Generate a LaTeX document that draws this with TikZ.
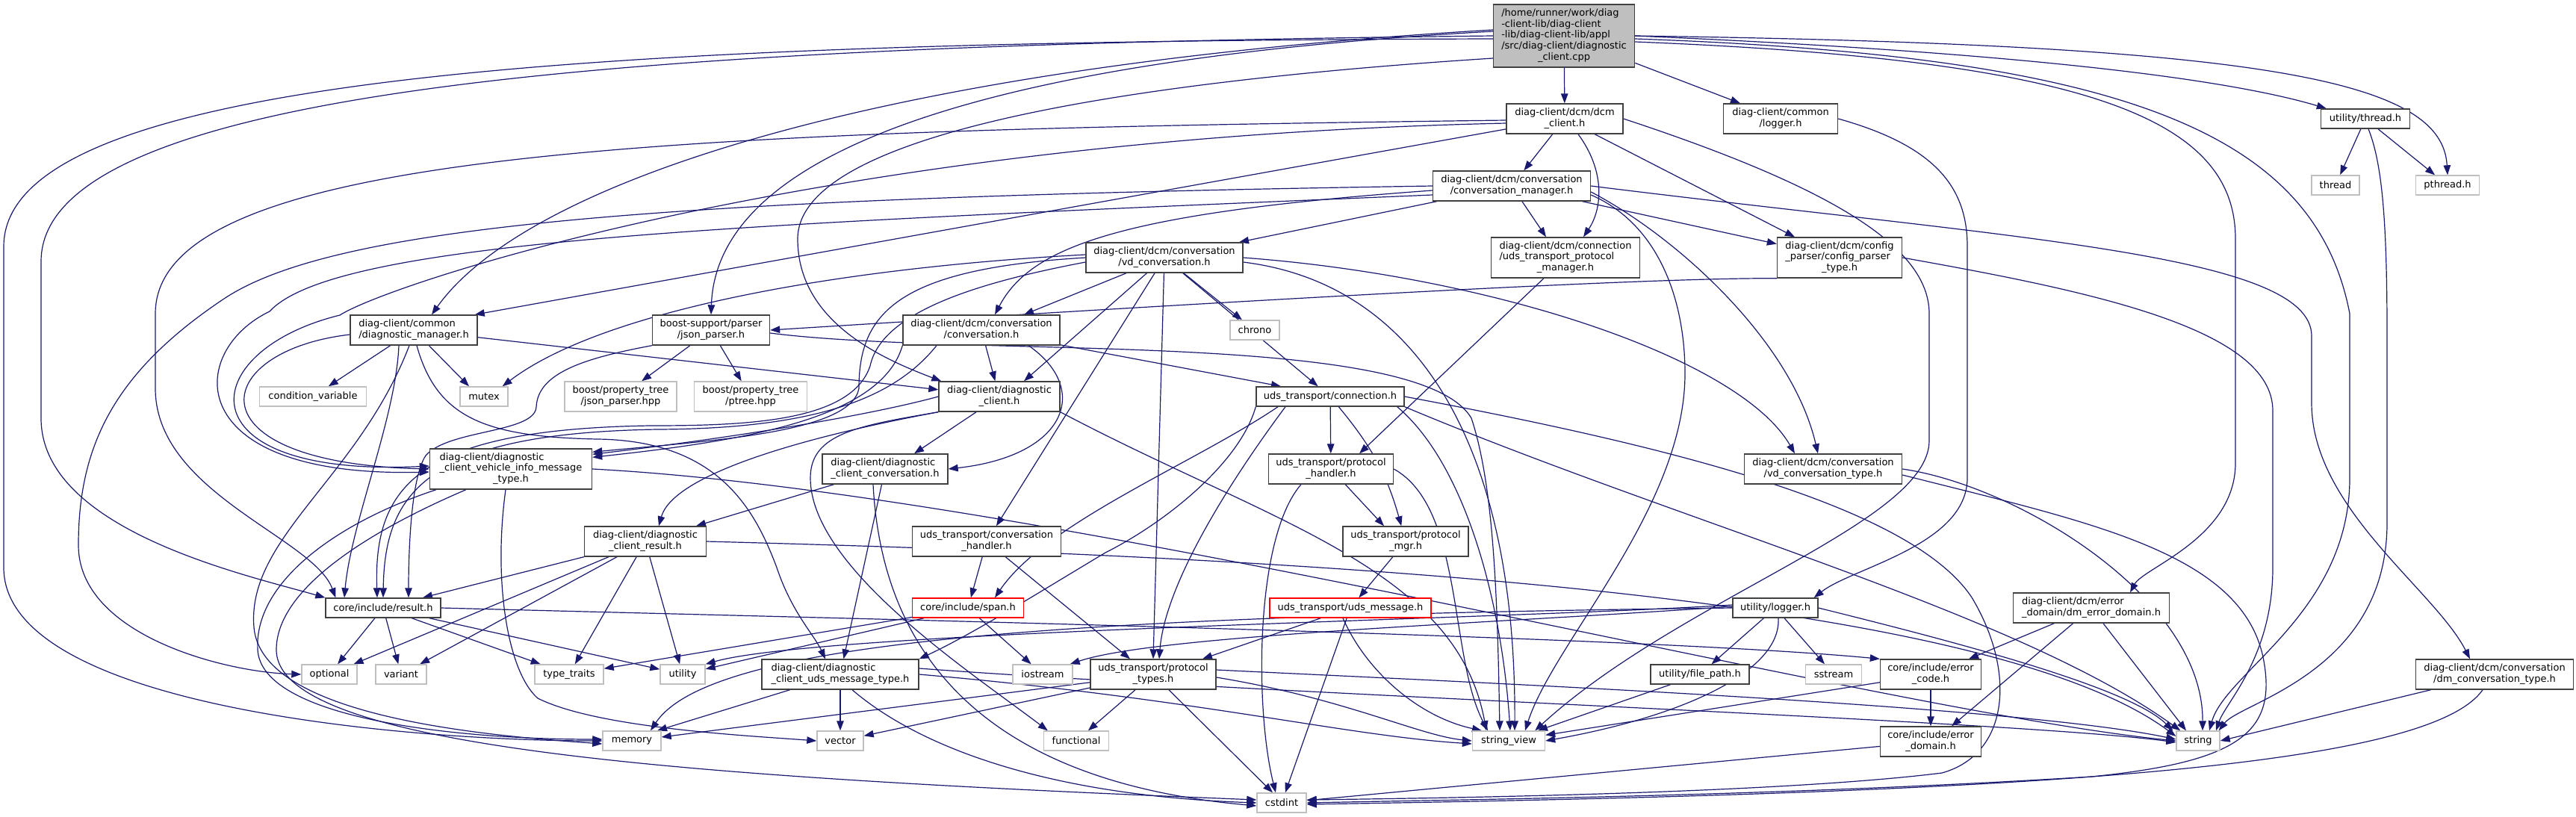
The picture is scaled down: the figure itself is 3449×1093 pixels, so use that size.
\documentclass[tikz,border=0pt]{standalone}
\usepackage{fontspec}
\newfontfamily\dfont{DejaVu Sans}
\usetikzlibrary{arrows.meta}
\definecolor{edgec}{HTML}{191970}
\definecolor{sysgray}{HTML}{BFBFBF}
\definecolor{boxgray}{HTML}{404040}
\pgfdeclarelayer{back}
\pgfdeclarelayer{bg}
\pgfsetlayers{back,bg,main}
\newcommand{\mlt}[2]{\begin{tabular}{@{}l@{}}#1\\\multicolumn{1}{@{}c@{}}{#2}\end{tabular}}
\newcommand{\nd}[7]{\node[#1, minimum width=#5pt, minimum height=#6pt] (#2) at (#3,#4) {#7};}
\tikzset{
  box/.style={draw=boxgray, line width=1.4pt, fill=white, inner sep=0pt, text=black,
    font=\dfont\fontsize{13pt}{14.75pt}\selectfont},
  sys/.style={box, draw=sysgray},
  redbox/.style={box, draw=red},
  rootbox/.style={box, fill=sysgray},
  dep/.style={draw=edgec, line width=1.2pt, -{Triangle[length=13pt,width=9.5pt]}}
}
\begin{document}
\begin{tikzpicture}[x=1pt,y=-1pt]
\useasboundingbox (0,0) rectangle (3449,1093);
\begin{pgfonlayer}{back}
\fill[white] (0,0) rectangle (3449,1093);
\end{pgfonlayer}
% nodes
\nd{rootbox}{root}{2094}{48}{189}{84}{\mlt{/home/runner/work/diag\\-client-lib/diag-client\\-lib/diag-client-lib/appl\\/src/diag-client/diagnostic}{\_client.cpp}}
\nd{box}{dcmc}{2095}{159}{156}{40}{\mlt{diag-client/dcm/dcm}{\_client.h}}
\nd{box}{clog}{2384}{159}{153}{40}{\mlt{diag-client/common}{/logger.h}}
\nd{box}{thrh}{3167}{159}{119}{26}{utility/thread.h}
\nd{sys}{thr}{3127}{248}{64}{26}{thread}
\nd{sys}{pth}{3277}{248}{85}{26}{pthread.h}
\nd{box}{cmgr}{2024}{249}{211}{40}{\mlt{diag-client/dcm/conversation}{/conversation\_manager.h}}
\nd{box}{tpm}{2096}{345}{199}{54}{\mlt{diag-client/dcm/connection\\/uds\_transport\_protocol}{\_manager.h}}
\nd{box}{cpt}{2463}{345}{167}{54}{\mlt{diag-client/dcm/config\\\_parser/config\_parser}{\_type.h}}
\nd{box}{vdc}{1559}{345}{210}{40}{\mlt{diag-client/dcm/conversation}{/vd\_conversation.h}}
\nd{box}{dmgr}{554}{442}{170}{40}{\mlt{diag-client/common}{/diagnostic\_manager.h}}
\nd{box}{jph}{952}{442}{157}{40}{\mlt{boost-support/parser}{/json\_parser.h}}
\nd{box}{conv}{1314}{442}{210}{40}{\mlt{diag-client/dcm/conversation}{/conversation.h}}
\nd{sys}{chrono}{1680}{442}{66}{26}{chrono}
\nd{sys}{cv}{419}{531}{143}{26}{condition\_variable}
\nd{sys}{mutex}{648}{531}{64}{26}{mutex}
\nd{sys}{bjp}{831}{531}{150}{40}{\mlt{boost/property\_tree}{/json\_parser.hpp}}
\nd{sys}{bpt}{1005}{531}{151}{40}{\mlt{boost/property\_tree}{/ptree.hpp}}
\nd{box}{dch}{1338}{531}{162}{40}{\mlt{diag-client/diagnostic}{\_client.h}}
\nd{box}{conn}{1781}{531}{198}{26}{uds\_transport/connection.h}
\nd{box}{vim}{684}{628}{217}{54}{\mlt{diag-client/diagnostic\\\_client\_vehicle\_info\_message}{\_type.h}}
\nd{box}{dcc}{1185}{628}{168}{40}{\mlt{diag-client/diagnostic}{\_client\_conversation.h}}
\nd{box}{tph}{1782}{628}{167}{40}{\mlt{uds\_transport/protocol}{\_handler.h}}
\nd{box}{vdt}{2441}{628}{211}{40}{\mlt{diag-client/dcm/conversation}{/vd\_conversation\_type.h}}
\nd{box}{dres}{864}{725}{163}{40}{\mlt{diag-client/diagnostic}{\_client\_result.h}}
\nd{box}{tch}{1321}{725}{199}{40}{\mlt{uds\_transport/conversation}{\_handler.h}}
\nd{box}{tpmgr}{1882}{725}{168}{40}{\mlt{uds\_transport/protocol}{\_mgr.h}}
\nd{box}{dmed}{2800}{814}{209}{40}{\mlt{diag-client/dcm/error}{\_domain/dm\_error\_domain.h}}
\nd{box}{dmct}{3340}{903}{211}{40}{\mlt{diag-client/dcm/conversation}{/dm\_conversation\_type.h}}
\nd{box}{res}{513}{814}{154}{26}{core/include/result.h}
\nd{redbox}{span}{1296}{814}{149}{26}{core/include/span.h}
\nd{redbox}{umsg}{1808}{814}{216}{26}{uds\_transport/uds\_message.h}
\nd{box}{ulog}{2377}{814}{114}{26}{utility/logger.h}
\nd{sys}{opt}{441}{903}{74}{26}{optional}
\nd{sys}{var}{537}{903}{68}{26}{variant}
\nd{sys}{tt}{762}{903}{92}{26}{type\_traits}
\nd{sys}{util}{914}{903}{60}{26}{utility}
\nd{box}{dum}{1125}{903}{210}{40}{\mlt{diag-client/diagnostic}{\_client\_uds\_message\_type.h}}
\nd{sys}{ios}{1396}{903}{80}{26}{iostream}
\nd{box}{ptt}{1544}{903}{168}{40}{\mlt{uds\_transport/protocol}{\_types.h}}
\nd{box}{fp}{2276}{903}{132}{26}{utility/file\_path.h}
\nd{sys}{ss}{2455}{903}{75}{26}{sstream}
\nd{box}{ec}{2585}{903}{135}{40}{\mlt{core/include/error}{\_code.h}}
\nd{sys}{mem}{846}{992}{78}{26}{memory}
\nd{sys}{vec}{1125}{992}{62}{26}{vector}
\nd{sys}{func}{1441}{992}{87}{26}{functional}
\nd{sys}{sv}{2020}{992}{97}{26}{string\_view}
\nd{sys}{str}{2943}{992}{58}{26}{string}
\nd{box}{ed}{2585}{993}{135}{40}{\mlt{core/include/error}{\_domain.h}}
\nd{sys}{cst}{1716}{1075}{66}{26}{cstdint}
% edges
\begin{pgfonlayer}{bg}
% root
\draw[dep] (root) -- (dcmc);
\draw[dep] (root) -- (clog);
\draw[dep] (root.east) .. controls (2700,70) and (2980,105) .. ([xshift=8pt]thrh.north west);
\draw[dep] (root.east) .. controls (3050,60) and (3270,110) .. (pth.north);
\draw[dep] ([yshift=-8pt]root.east) .. controls (2800,80) and (2993,160) .. (2993,320) -- (2993,620) .. controls (2993,720) and (2870,760) .. ([xshift=52pt]dmed.north);
\draw[dep] ([yshift=-4pt]root.east) .. controls (2850,75) and (3100,180) .. (3146,420) -- (3146,640) .. controls (3146,820) and (2980,900) .. ([xshift=15pt]str.north);
\draw[dep] ([yshift=8pt]root.west) .. controls (1150,90) and (700,250) .. ([xshift=24pt]dmgr.north);
\draw[dep] ([yshift=6pt]root.west) .. controls (1400,75) and (960,180) .. (jph.north);
\draw[dep] ([yshift=-30pt]root.west) .. controls (1500,110) and (1068,180) .. (1068,320) .. controls (1068,430) and (1180,480) .. ([xshift=4pt]dch.north west);
\draw[dep] (root.west) .. controls (900,60) and (55,110) .. (55,350) -- (55,560) .. controls (55,710) and (330,770) .. (res.north west);
\draw[dep] ([yshift=-4pt]root.west) .. controls (800,55) and (5,100) .. (5,330) -- (5,760) .. controls (5,950) and (560,992) .. (mem.west);
% thread
\draw[dep] (thrh) -- (thr);
\draw[dep] (thrh) -- (pth);
\draw[dep] ([xshift=4pt]thrh.south) .. controls (3190,220) and (3196,300) .. (3196,450) -- (3196,700) .. controls (3196,900) and (3000,940) .. ([xshift=-2pt]str.north east);
% common logger
\draw[dep] (clog.east) .. controls (2590,195) and (2634,250) .. (2634,330) -- (2634,640) .. controls (2634,730) and (2480,760) .. ([xshift=-6pt]ulog.north east);
% dcm client
\draw[dep] (dcmc) -- (cmgr);
\draw[dep] ([xshift=18pt]dcmc.south) .. controls (2150,230) and (2145,280) .. ([xshift=24pt]tpm.north);
\draw[dep] (dcmc) -- ([xshift=-60pt]cpt.north);
\draw[dep] (dcmc) -- ([xshift=-4pt]dmgr.north east);
\draw[dep] ([yshift=-2pt]dcmc.west) .. controls (900,175) and (208,200) .. (208,420) -- (208,520) .. controls (208,660) and (420,720) .. ([xshift=14pt]res.north west);
\draw[dep] ([yshift=-6pt]dcmc.west) .. controls (1100,185) and (520,380) .. (455,422) .. controls (260,470) and (240,640) .. ([yshift=4pt]vim.west);
\draw[dep] (dcmc.east) .. controls (2450,250) and (2583,330) .. (2583,420) -- (2583,590) .. controls (2583,700) and (2250,800) .. ([xshift=-14pt]sv.north east);
% conversation manager
\draw[dep] (cmgr) -- ([xshift=-26pt]tpm.north);
\draw[dep] (cmgr) -- (cpt);
\draw[dep] (cmgr) -- ([xshift=100pt]vdc.north);
\draw[dep] ([yshift=-6pt]cmgr.west) .. controls (1500,285) and (1380,330) .. ([xshift=18pt]conv.north);
\draw[dep] ([yshift=-8pt]cmgr.east) .. controls (2250,320) and (2400,460) .. ([xshift=-7pt]vdt.north);
\draw[dep] (cmgr.east) .. controls (2700,320) and (3095,340) .. (3095,450) -- (3095,540) .. controls (3095,680) and (3260,790) .. ([xshift=-33pt]dmct.north);
\draw[dep] ([yshift=-12pt]cmgr.east) .. controls (2220,300) and (2256,400) .. (2256,500) .. controls (2256,680) and (2080,860) .. ([xshift=22pt]sv.north);
\draw[dep] (cmgr.west) .. controls (900,265) and (450,300) .. (300,400) .. controls (150,500) and (105,600) .. (105,730) .. controls (105,850) and (300,900) .. (opt.west);
\draw[dep] ([yshift=-12pt]cmgr.west) .. controls (1000,300) and (450,320) .. (361,417) .. controls (250,470) and (240,640) .. ([yshift=-4pt]vim.west);
% config parser
\draw[dep] (cpt.south west) .. controls (2200,372) and (1700,400) .. (jph.east);
\draw[dep] (cpt.east) .. controls (2800,390) and (3043,440) .. (3043,550) -- (3043,760) .. controls (3043,880) and (2980,940) .. ([xshift=24pt]str.north);
% vd conversation
\draw[dep] (vdc) -- ([xshift=57pt]conv.north);
\draw[dep] (vdc) -- ([xshift=33pt]dch.north);
\draw[dep] (vdc) -- (chrono);
\draw[dep] (vdc) -- (conn);
\draw[dep] (vdc.east) .. controls (2000,370) and (2330,480) .. ([xshift=-38pt]vdt.north);
\draw[dep] (vdc) -- (tch);
\draw[dep] (vdc) -- (ptt.north);
\draw[dep] ([yshift=-6pt]vdc.east) .. controls (1900,380) and (2030,600) .. ([xshift=8pt]sv.north);
\draw[dep] ([yshift=4pt]vdc.west) .. controls (1100,360) and (800,420) .. ([xshift=-8pt]mutex.north east);
\draw[dep] (vdc.west) .. controls (1200,360) and (1150,420) .. (1150,520) .. controls (1140,580) and (950,590) .. ([yshift=-5pt]vim.north east);
\draw[dep] ([yshift=-6pt]vdc.west) .. controls (1300,380) and (1180,420) .. (1165,490) .. controls (1140,565) and (1000,570) .. (870,570) .. controls (560,575) and (500,650) .. ([xshift=-8pt]res.north);
% conversation
\draw[dep] (conv) -- (dch);
\draw[dep] ([xshift=63pt]conv.south) .. controls (1460,520) and (1430,610) .. (dcc.east);
\draw[dep] (conv) -- ([xshift=-66pt]conn.north);
\draw[dep] (conv.south west) .. controls (1180,560) and (1000,590) .. ([yshift=-12pt]vim.north east);
\draw[dep] ([xshift=-60pt]conv.south) .. controls (1200,530) and (1100,574) .. (880,575) .. controls (570,580) and (515,660) .. (res.north);
% diagnostic client
\draw[dep] (dch) -- ([xshift=39pt]dcc.north);
\draw[dep] (dch.south east) .. controls (1700,700) and (1950,760) .. ([xshift=-30pt]sv.north);
\draw[dep] (dch.south west) .. controls (1150,570) and (1085,580) .. (1085,640) .. controls (1085,760) and (1300,900) .. ([xshift=6pt]func.north west);
\draw[dep] (dch.south west) .. controls (1050,590) and (900,640) .. ([xshift=18pt]dres.north);
\draw[dep] (dch.west) .. controls (1150,560) and (950,590) .. ([yshift=-8pt]vim.north east);
% diagnostic manager
\draw[dep] (dmgr) -- (cv);
\draw[dep] (dmgr) -- ([xshift=-20pt]mutex.north);
\draw[dep] ([yshift=-6pt]dmgr.west) .. controls (280,470) and (250,620) .. (vim.west);
\draw[dep] ([xshift=-20pt]dmgr.south) .. controls (530,560) and (470,700) .. ([xshift=-52pt]res.north);
\draw[dep] ([xshift=-6pt]dmgr.south) .. controls (480,640) and (330,720) .. (340,840) .. controls (350,960) and (650,985) .. ([yshift=-4pt]mem.west);
\draw[dep] (dmgr) -- (dch);
\draw[dep] ([xshift=4pt]dmgr.south) .. controls (585,560) and (650,585) .. (800,588) .. controls (960,590) and (1010,680) .. (1040,760) .. controls (1060,820) and (1090,850) .. ([xshift=-20pt]dum.north);
% json parser
\draw[dep] (jph) -- (bjp);
\draw[dep] (jph) -- (bpt);
\draw[dep] (jph.south west) .. controls (780,480) and (720,500) .. (718,545) .. controls (716,580) and (600,575) .. (570,610) .. controls (550,640) and (547,740) .. ([xshift=34pt]res.north);
\draw[dep] ([yshift=-4pt]jph.east) .. controls (1300,480) and (1900,440) .. (1970,560) .. controls (2000,650) and (2005,800) .. ([xshift=-12pt]sv.north);
% protocol manager
\draw[dep] (tpm) -- ([xshift=38pt]tph.north);
% connection
\draw[dep] (conn) -- (tph);
\draw[dep] (conn) to[bend left=12] (tpmgr);
\draw[dep] ([xshift=-70pt]conn.south) .. controls (1600,620) and (1400,700) .. ([xshift=36pt]span.north);
\draw[dep] ([xshift=-60pt]conn.south) .. controls (1650,640) and (1560,780) .. ([xshift=8pt]ptt.north);
\draw[dep] (conn.south west) .. controls (1660,620) and (1560,700) .. (1480,740) .. controls (1380,800) and (1300,850) .. (dum.north east);
\draw[dep] ([xshift=-10pt]conn.south east) .. controls (1960,620) and (2010,800) .. ([xshift=2pt]sv.north);
\draw[dep] (conn.south east) .. controls (2250,700) and (2700,820) .. ([xshift=6pt]str.north west);
\draw[dep] (conn.east) .. controls (2250,600) and (2560,680) .. (2640,800) .. controls (2700,900) and (2690,1010) .. (2600,1035) .. controls (2400,1060) and (2000,1068) .. ([yshift=4pt]cst.east);
% protocol handler
\draw[dep] (tph) -- ([xshift=-29pt]tpmgr.north);
\draw[dep] ([xshift=-40pt]tph.south) .. controls (1680,720) and (1680,950) .. ([xshift=-8pt]cst.north);
\draw[dep] (tph.east) .. controls (1960,680) and (1940,880) .. ([xshift=-28pt]sv.north);
% conversation handler
\draw[dep] (tch) -- (span);
\draw[dep] (tch) -- ([xshift=-31pt]ptt.north);
% protocol mgr
\draw[dep] (tpmgr) -- (umsg);
% uds message
\draw[dep] (umsg) -- ([xshift=66pt]ptt.north);
\draw[dep] (umsg) -- (cst);
\draw[dep] ([xshift=-10pt]umsg.south) .. controls (1830,900) and (1900,960) .. ([xshift=-36pt]sv.north);
% result
\draw[dep] (res) -- (opt);
\draw[dep] (res) -- (var);
\draw[dep] (res) -- (tt);
\draw[dep] (res) -- (util);
\draw[dep] (res.east) .. controls (1200,830) and (2200,852) .. (ec.north west);
% span
\draw[dep] (span) -- (tt);
\draw[dep] (span) -- (util);
\draw[dep] (span) -- (ios);
% diagnostic client result
\draw[dep] (dres) -- ([xshift=53pt]res.north);
\draw[dep] (dres) -- (opt);
\draw[dep] (dres) -- (var);
\draw[dep] (dres) -- (tt);
\draw[dep] (dres) -- (util);
\draw[dep] (dres.east) .. controls (1700,745) and (2650,790) .. ([yshift=6pt]str.west);
% diagnostic client conversation
\draw[dep] (dcc) -- ([xshift=68pt]dres.north);
\draw[dep] (dcc) -- (dum);
\draw[dep] ([xshift=-16pt]dcc.south) .. controls (1180,860) and (1300,1045) .. ([yshift=-4pt]cst.west);
% vehicle info
\draw[dep] ([xshift=-100pt]vim.south) .. controls (450,700) and (340,780) .. (345,870) .. controls (350,960) and (600,990) .. ([yshift=2pt]mem.west);
\draw[dep] ([xshift=-60pt]vim.south) .. controls (520,700) and (370,780) .. (370,870) .. controls (370,1000) and (900,1040) .. ([yshift=4pt]cst.west);
\draw[dep] ([xshift=-7pt]vim.south) .. controls (660,780) and (680,900) .. (720,935) .. controls (800,975) and (1000,985) .. (vec.west);
\draw[dep] (vim.east) .. controls (1400,660) and (2500,950) .. (str.west);
% utility logger
\draw[dep] (ulog) -- (fp);
\draw[dep] (ulog) -- (ss);
\draw[dep] ([xshift=4pt]ulog.south) .. controls (2385,900) and (2250,960) .. (sv.east);
\draw[dep] (ulog.east) .. controls (2620,860) and (2850,920) .. ([xshift=-4pt]str.north west);
\draw[dep] ([yshift=4pt]ulog.west) .. controls (2000,830) and (1100,845) .. (util.north east);
\draw[dep] ([yshift=2pt]ulog.west) .. controls (2000,835) and (1550,850) .. ([xshift=-4pt]ios.north east);
\draw[dep] (ulog.west) .. controls (1400,825) and (950,860) .. ([xshift=25pt]mem.north);
% file path
\draw[dep] (fp) -- ([xshift=39pt]sv.north);
% error code / domain
\draw[dep] (ec) -- (ed);
\draw[dep] (ec) -- (sv);
\draw[dep] (ed) -- (cst);
% dm error domain
\draw[dep] (dmed) -- ([xshift=51pt]ec.north);
\draw[dep] (dmed) -- ([xshift=28pt]ed.north);
\draw[dep] (dmed) -- ([xshift=-16pt]str.north);
% dm conversation type
\draw[dep] (dmct) -- (str.east);
\draw[dep] ([xshift=-16pt]dmct.south) .. controls (3250,1030) and (2700,1062) .. ([yshift=-2pt]cst.east);
% vd conversation type
\draw[dep] (vdt.east) .. controls (2700,650) and (2950,800) .. ([xshift=6pt]str.north);
\draw[dep] ([yshift=-8pt]vdt.east) .. controls (2800,700) and (3000,740) .. (3030,880) .. controls (3050,980) and (3000,1020) .. (2800,1040) .. controls (2400,1065) and (2000,1070) .. ([yshift=0pt]cst.east);
% protocol types
\draw[dep] (ptt) -- (mem);
\draw[dep] (ptt) -- (vec);
\draw[dep] (ptt) -- (func);
\draw[dep] (ptt) -- ([xshift=-12pt]cst.north);
\draw[dep] ([yshift=6pt]ptt.east) .. controls (2000,915) and (2700,945) .. ([yshift=2pt]str.west);
\draw[dep] ([yshift=-4pt]ptt.east) .. controls (1800,935) and (1900,985) .. (sv.west);
% uds message type
\draw[dep] (dum) -- ([xshift=34pt]mem.north);
\draw[dep] (dum) -- (vec);
\draw[dep] ([xshift=16pt]dum.south) .. controls (1230,1000) and (1400,1065) .. (cst.west);
\draw[dep] ([yshift=8pt]dum.east) .. controls (1700,930) and (2700,965) .. ([yshift=-2pt]str.west);
\draw[dep] (dum.east) .. controls (1600,935) and (1800,985) .. ([yshift=-4pt]sv.west);
\end{pgfonlayer}
\end{tikzpicture}
\end{document}
